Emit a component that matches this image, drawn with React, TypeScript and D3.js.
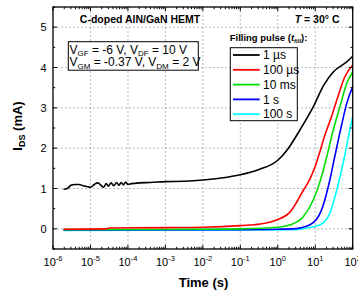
import React from "react";
import * as d3 from "d3";

// log10(time in s), I_DS (mA)
const seriesNames = ["1 \u00b5s", "100 \u00b5s", "10 ms", "1 s", "100 s"];
const seriesColors = ["#000000", "#ff0000", "#00dd00", "#0000ff", "#00ffff"];

const black: [number, number][] = [
  [-5.72, 0.98], [-5.62, 1.0], [-5.52, 1.08], [-5.42, 1.1], [-5.3, 1.1], [-5.2, 1.07],
  [-5.1, 1.05], [-5.0, 1.03], [-4.9, 1.1], [-4.8, 1.14], [-4.72, 1.08], [-4.65, 1.03],
  [-4.58, 1.12], [-4.52, 1.06], [-4.45, 1.14], [-4.38, 1.07], [-4.3, 1.15], [-4.24, 1.08],
  [-4.18, 1.15], [-4.12, 1.09], [-4.06, 1.16], [-4.0, 1.1], [-3.9, 1.12], [-3.7, 1.14],
  [-3.4, 1.15], [-3.0, 1.17], [-2.5, 1.18], [-2.0, 1.21], [-1.5, 1.26], [-1.0, 1.34],
  [-0.5, 1.47], [0.0, 1.7], [0.27, 1.98], [0.59, 2.45], [0.95, 3.03], [1.22, 3.55],
  [1.48, 3.89], [1.84, 4.14], [2.0, 4.28],
];
const red: [number, number][] = [
  [-5.72, -0.01], [-4.6, 0.0], [-4.5, 0.02], [-3.0, 0.03], [-2.0, 0.04], [-1.0, 0.08],
  [-0.47, 0.12], [-0.03, 0.22], [0.33, 0.42], [0.68, 0.95], [0.85, 1.22], [1.0, 1.55],
  [1.13, 1.93], [1.25, 2.3], [1.44, 2.8], [1.62, 3.32], [1.79, 3.77], [2.0, 4.06],
];
const green: [number, number][] = [
  [-5.72, -0.02], [-2.0, -0.01], [-1.0, 0.0], [0.0, 0.04], [0.33, 0.1], [0.68, 0.3],
  [0.95, 0.72], [1.17, 1.3], [1.31, 1.8], [1.48, 2.45], [1.66, 3.03], [1.84, 3.61], [2.0, 3.89],
];
const blue: [number, number][] = [
  [-5.72, -0.03], [-1.0, -0.02], [0.0, -0.01], [0.42, 0.0], [0.86, 0.1], [1.17, 0.47],
  [1.39, 1.21], [1.53, 1.83], [1.71, 2.6], [1.84, 3.11], [2.0, 3.52],
];
const cyan: [number, number][] = [
  [-5.72, -0.04], [-1.0, -0.03], [0.5, -0.02], [0.77, 0.02], [1.13, 0.1], [1.39, 0.39],
  [1.62, 1.13], [1.79, 1.83], [1.93, 2.49], [2.0, 2.78],
];
const seriesData = [black, red, green, blue, cyan];

const xExponents = [-6, -5, -4, -3, -2, -1, 0, 1, 2];
const yTickValues = [0, 1, 2, 3, 4, 5];

const W = 358, H = 293;
const L = 53, R = 352.7, T = 7, B = 249;
const font = "'Liberation Sans', Arial, sans-serif";

export default function App() {
  const x = d3.scaleLog().domain([1e-6, 1e2]).range([L, R]);
  const y = d3.scaleLinear().domain([-0.5, 5.5]).range([B, T]);
  const line = d3
    .line<[number, number]>()
    .x((d) => x(Math.pow(10, d[0])))
    .y((d) => y(d[1]))
    .curve(d3.curveMonotoneX);

  const allTicks = x.ticks();
  const majorX = xExponents.map((e) => Math.pow(10, e));
  const minorX = allTicks.filter(
    (t) => Math.abs(Math.log10(t) - Math.round(Math.log10(t))) > 1e-6
  );
  const minorY = d3.range(-0.5, 5.6, 1);

  const legendY0 = 55, legendDY = 14.8;

  return (
    <svg
      width={W}
      height={H}
      style={{ position: "absolute", left: 0, top: 0, background: "#fff" }}
      fontFamily={font}
    >
      <rect x={0} y={0} width={W} height={H} fill="#fff" />
      {/* grid */}
      <g stroke="#aaaaaa" strokeWidth={0.8} strokeDasharray="2,2">
        {majorX.slice(1, -1).map((t) => (
          <line key={"gx" + t} x1={x(t)} x2={x(t)} y1={T} y2={B} />
        ))}
        {yTickValues.map((v) => (
          <line key={"gy" + v} x1={L} x2={R} y1={y(v)} y2={y(v)} />
        ))}
      </g>
      {/* curves */}
      <g fill="none" strokeWidth={1.6}>
        {seriesData
          .map((d, i) => ({ d, i }))
          .reverse()
          .map(({ d, i }) => (
            <path key={i} d={line(d) || ""} stroke={seriesColors[i]} />
          ))}
      </g>
      {/* frame */}
      <rect x={L} y={T} width={R - L} height={B - T} fill="none" stroke="#000" strokeWidth={1.3} />
      {/* x ticks */}
      <g stroke="#000" strokeWidth={1}>
        {majorX.map((t) => (
          <g key={"mx" + t}>
            <line x1={x(t)} x2={x(t)} y1={B} y2={B - 4} />
            <line x1={x(t)} x2={x(t)} y1={T} y2={T + 4} />
          </g>
        ))}
        {minorX.map((t) => (
          <g key={"nx" + t}>
            <line x1={x(t)} x2={x(t)} y1={B} y2={B - 2.2} />
            <line x1={x(t)} x2={x(t)} y1={T} y2={T + 2.2} />
          </g>
        ))}
        {yTickValues.map((v) => (
          <g key={"my" + v}>
            <line x1={L} x2={L + 4} y1={y(v)} y2={y(v)} />
            <line x1={R} x2={R - 4} y1={y(v)} y2={y(v)} />
          </g>
        ))}
        {minorY.map((v) => (
          <g key={"ny" + v}>
            <line x1={L} x2={L + 2.2} y1={y(v)} y2={y(v)} />
            <line x1={R} x2={R - 2.2} y1={y(v)} y2={y(v)} />
          </g>
        ))}
      </g>
      {/* x tick labels */}
      <g fontSize={11} fill="#000" textAnchor="middle">
        {xExponents.map((e) => (
          <text key={"lx" + e} x={x(Math.pow(10, e))} y={266}>
            10
            <tspan fontSize={7.5} dy={-5}>{e}</tspan>
          </text>
        ))}
      </g>
      {/* y tick labels */}
      <g fontSize={11} fill="#000" textAnchor="end">
        {yTickValues.map((v) => (
          <text key={"ly" + v} x={46.5} y={y(v) + 4}>
            {v}
          </text>
        ))}
      </g>
      {/* axis titles */}
      <text x={203.5} y={286.5} fontSize={13} fontWeight="bold" textAnchor="middle">
        Time (s)
      </text>
      <text
        transform={`translate(21.5,126) rotate(-90)`}
        fontSize={13}
        fontWeight="bold"
        textAnchor="middle"
      >
        I<tspan fontSize={9} dy={3}>DS</tspan>
        <tspan dy={-3}> (mA)</tspan>
      </text>
      {/* title texts */}
      <text x={140} y={22.5} fontSize={10.5} fontWeight="bold" textAnchor="middle">
        C-doped AlN/GaN HEMT
      </text>
      <text x={339.5} y={22.5} fontSize={10.5} fontWeight="bold" textAnchor="end">
        <tspan fontStyle="italic">T</tspan> = 30° C
      </text>
      {/* conditions box */}
      <rect x={68.3} y={41.7} width={130} height={28.5} fill="#fff" stroke="#000" strokeWidth={1} />
      <g fontSize={12}>
        <text x={69.5} y={53.5}>
          V<tspan fontSize={8} dy={2.5}>GF</tspan>
          <tspan dy={-2.5}> = -6 V, V</tspan>
          <tspan fontSize={8} dy={2.5}>DF</tspan>
          <tspan dy={-2.5}> = 10 V</tspan>
        </text>
        <text x={69.5} y={66}>
          V<tspan fontSize={8} dy={2.5}>GM</tspan>
          <tspan dy={-2.5}> = -0.37 V, V</tspan>
          <tspan fontSize={8} dy={2.5}>DM</tspan>
          <tspan dy={-2.5}> = 2 V</tspan>
        </text>
      </g>
      {/* legend */}
      <text x={229.7} y={40.5} fontSize={9.5} fontWeight="bold">
        Filling pulse (<tspan fontStyle="italic">t</tspan>
        <tspan fontSize={6} dy={2} fontStyle="italic">fill</tspan>
        <tspan dy={-2}>):</tspan>
      </text>
      <rect x={230.3} y={47.7} width={67} height={73} fill="#fff" stroke="#000" strokeWidth={1} />
      {seriesNames.map((n, i) => (
        <g key={n}>
          <line
            x1={233}
            x2={259.7}
            y1={legendY0 + i * legendDY}
            y2={legendY0 + i * legendDY}
            stroke={seriesColors[i]}
            strokeWidth={1.8}
          />
          <text x={263} y={legendY0 + i * legendDY + 4.2} fontSize={12}>
            {n}
          </text>
        </g>
      ))}
    </svg>
  );
}
